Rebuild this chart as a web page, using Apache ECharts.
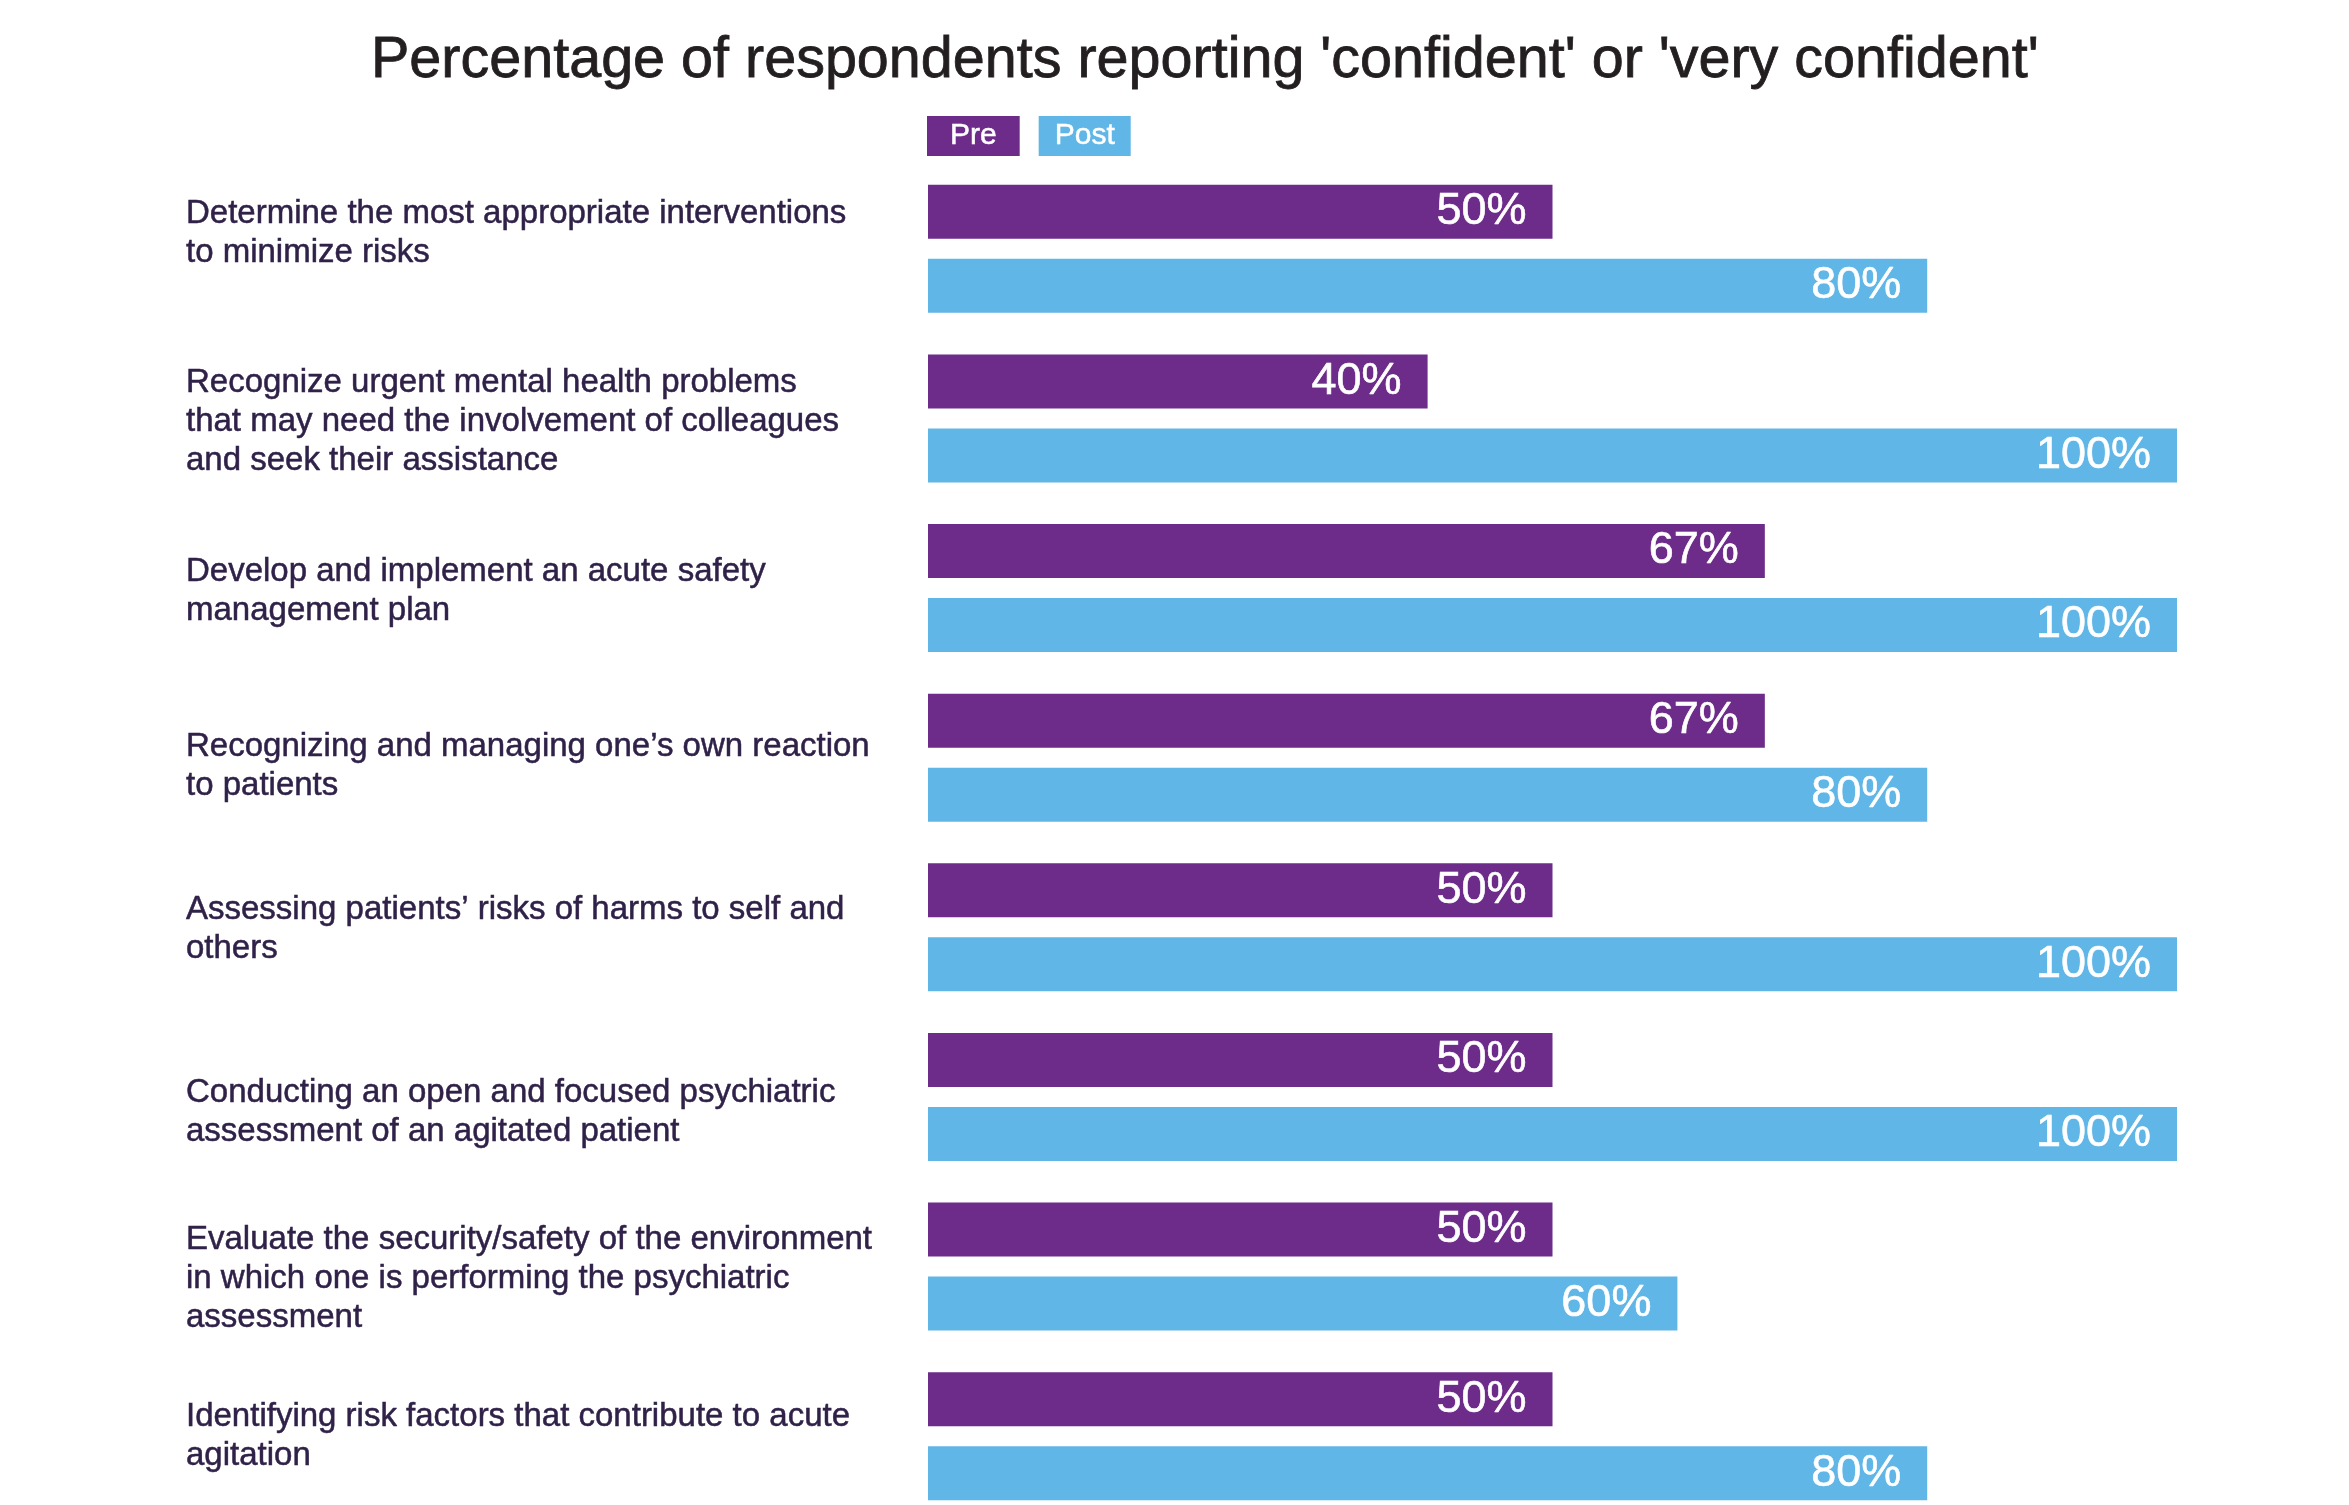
<!DOCTYPE html>
<html>
<head>
<meta charset="utf-8">
<script src="https://cdn.jsdelivr.net/npm/echarts@6/dist/echarts.min.js"></script>
<style>
  html, body { margin: 0; padding: 0; background: #fff; }
  #chart { width: 2349px; height: 1505px; }
</style>
</head>
<body>
<div id="chart"></div>
<script>
// 调查项目
const categories = [
  'Determine the most appropriate interventions\nto minimize risks',
  'Recognize urgent mental health problems\nthat may need the involvement of colleagues\nand seek their assistance',
  'Develop and implement an acute safety\nmanagement plan',
  'Recognizing and managing one\u2019s own reaction\nto patients',
  'Assessing patients\u2019 risks of harms to self and\nothers',
  'Conducting an open and focused psychiatric\nassessment of an agitated patient',
  'Evaluate the security/safety of the environment\nin which one is performing the psychiatric\nassessment',
  'Identifying risk factors that contribute to acute\nagitation'
]
const seriesNames = ['Pre', 'Post']
const preValues = [50, 40, 67, 67, 50, 50, 50, 50]
const postValues = [80, 100, 100, 80, 100, 100, 60, 80]

const PURPLE = '#6D2C8A'
const BLUE = '#60B6E6'
const LABEL_COLOR = '#2f2148'
const FONT = '"Liberation Sans", Arial, Helvetica, sans-serif'

// 每行标签的上下微调 (负数上移)
const labelShift = [-15, 3, 3, 9, 2, 15, 12, 0]

const chart = echarts.init(document.getElementById('chart'))

const legendBox = (color, padX) => ({
  color: '#fff',
  fontSize: 30,
  fontFamily: FONT,
  backgroundColor: color,
  padding: [5, padX, 5, padX],
  lineHeight: 30,
  textBorderColor: '#fff',
  textBorderWidth: 0.5
})

const barLabel = {
  show: true,
  position: 'insideRight',
  distance: 26,
  formatter: '{c}%',
  color: '#fff',
  fontSize: 45,
  fontFamily: FONT,
  textBorderColor: '#fff',
  textBorderWidth: 0.6
}

// 空白行用于移动标签
const gapRich = {}
labelShift.forEach(s => {
  if (s) gapRich['g' + Math.abs(s)] = { lineHeight: 2 * Math.abs(s), height: 2 * Math.abs(s), fontSize: 1 }
})

const option = {
  animation: false,
  textStyle: { fontFamily: FONT },
  title: {
    text: "Percentage of respondents reporting 'confident' or 'very confident'",
    left: 366,
    top: 27,
    textStyle: {
      fontSize: 57.5,
      fontWeight: 'normal',
      color: '#231f20',
      fontFamily: FONT,
      textBorderColor: '#231f20',
      textBorderWidth: 0.8
    }
  },
  legend: {
    left: 922,
    top: 116,
    itemWidth: 0,
    itemHeight: 0,
    itemGap: 14,
    selectedMode: false,
    padding: 0,
    data: [
      { name: seriesNames[0], icon: 'rect', textStyle: legendBox(PURPLE, 23) },
      { name: seriesNames[1], icon: 'rect', textStyle: legendBox(BLUE, 16) }
    ]
  },
  grid: {
    left: 928,
    width: 1249,
    top: 164,
    height: 1357,
    outerBoundsMode: 'none',
    containLabel: false
  },
  xAxis: {
    type: 'value',
    min: 0,
    max: 100,
    show: false
  },
  yAxis: {
    type: 'category',
    inverse: true,
    data: categories,
    axisLine: { show: false },
    axisTick: { show: false },
    axisLabel: {
      align: 'left',
      margin: 742,
      fontSize: 33,
      lineHeight: 39,
      color: LABEL_COLOR,
      fontFamily: FONT,
      textBorderColor: LABEL_COLOR,
      textBorderWidth: 0.5,
      rich: gapRich,
      formatter: (value, index) => {
        const s = labelShift[index]
        if (!s) return value
        const gap = '{g' + Math.abs(s) + '| }'
        return s < 0 ? value + '\n' + gap : gap + '\n' + value
      }
    }
  },
  series: [
    {
      name: seriesNames[0],
      type: 'bar',
      data: preValues,
      barWidth: 54,
      barGap: '37%',
      itemStyle: { color: PURPLE },
      label: barLabel
    },
    {
      name: seriesNames[1],
      type: 'bar',
      data: postValues,
      barWidth: 54,
      barGap: '37%',
      itemStyle: { color: BLUE },
      label: barLabel
    }
  ]
}

chart.setOption(option)
</script>
</body>
</html>
